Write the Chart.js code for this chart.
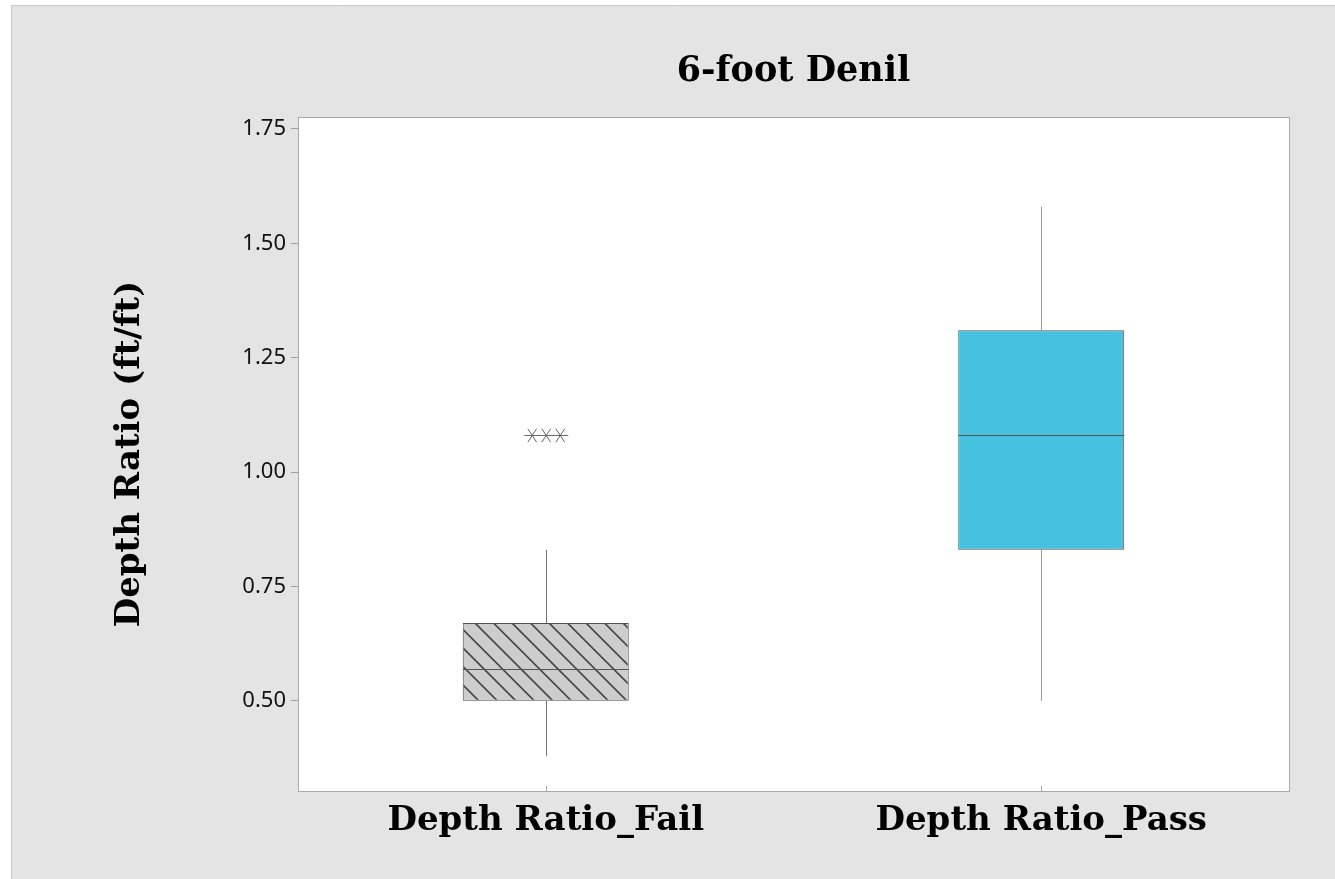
<!DOCTYPE html>
<html>
<head>
<meta charset="utf-8">
<script src="https://cdn.jsdelivr.net/npm/chart.js@4/dist/chart.umd.min.js"></script>
<style>
  html, body { margin: 0; padding: 0; background: #ffffff; }
  #wrap { position: absolute; left: 0; top: 0; width: 1335px; height: 879px; }
</style>
</head>
<body>
<div id="wrap"><canvas id="c" width="1335" height="879"></canvas></div>
<script>
// ---- data ----
const categories = ['Depth Ratio_Fail', 'Depth Ratio_Pass'];
const whiskerLow = [0.38, 0.50];
const q1Values = [0.50, 0.83];
const medianValues = [0.57, 1.08];
const q3Values = [0.67, 1.31];
const whiskerHigh = [0.83, 1.58];
const outliersFail = [1.08, 1.08, 1.08];
const outliersPass = [];
const yTicks = [0.50, 0.75, 1.00, 1.25, 1.50, 1.75];
const titleText = '6-foot Denil';
const yTitleText = 'Depth Ratio (ft/ft)';

const outlierSets = [outliersFail, outliersPass];

// ---- hatch pattern for the Fail box ----
function makeHatch() {
  const s = 18.5;
  const n = 37;
  const p = document.createElement('canvas');
  p.width = n; p.height = n;
  const g = p.getContext('2d');
  g.fillStyle = '#cdcdcd';
  g.fillRect(0, 0, n, n);
  g.strokeStyle = '#4a4a4a';
  g.lineWidth = 1.7;
  g.beginPath();
  for (let k = -2; k <= 2; k++) {
    g.moveTo(k * s - 1, -1);
    g.lineTo(k * s + n + 1, n + 1);
  }
  g.stroke();
  return document.getElementById('c').getContext('2d').createPattern(p, 'repeat');
}
const hatch = makeHatch();

const serifBold = { family: '"DejaVu Serif", serif', weight: 'bold', size: 34 };

const boxPlugin = {
  id: 'boxParts',
  beforeDraw(chart) {
    const ctx = chart.ctx;
    const ca = chart.chartArea;
    ctx.save();
    ctx.fillStyle = '#ffffff';
    ctx.fillRect(0, 0, chart.width, chart.height);
    ctx.fillStyle = '#e4e4e4';
    ctx.fillRect(11, 5, chart.width - 11, chart.height - 5);
    ctx.strokeStyle = '#c8c8c8';
    ctx.lineWidth = 1;
    ctx.beginPath();
    ctx.moveTo(11.5, chart.height); ctx.lineTo(11.5, 5.5); ctx.lineTo(chart.width, 5.5);
    ctx.stroke();
    ctx.fillStyle = '#ffffff';
    ctx.fillRect(ca.left, ca.top, ca.right - ca.left, ca.bottom - ca.top);
    ctx.restore();
  },
  beforeDatasetsDraw(chart) {
    const ctx = chart.ctx;
    const x = chart.scales.x, y = chart.scales.y;
    ctx.save();
    ctx.lineWidth = 1;
    const whiskerColors = ['#707070', '#9a9a9a'];
    categories.forEach((c, i) => {
      const px = Math.round(x.getPixelForValue(i)) + 0.5;
      ctx.strokeStyle = whiskerColors[i % whiskerColors.length];
      ctx.beginPath();
      ctx.moveTo(px, y.getPixelForValue(whiskerLow[i]));
      ctx.lineTo(px, y.getPixelForValue(q1Values[i]));
      ctx.moveTo(px, y.getPixelForValue(q3Values[i]));
      ctx.lineTo(px, y.getPixelForValue(whiskerHigh[i]));
      ctx.stroke();
    });
    ctx.restore();
  },
  afterDatasetsDraw(chart) {
    const ctx = chart.ctx;
    const ca = chart.chartArea;
    const x = chart.scales.x, y = chart.scales.y;
    const meta = chart.getDatasetMeta(0);
    ctx.save();
    // medians
    ctx.strokeStyle = '#555555';
    ctx.lineWidth = 1;
    meta.data.forEach((bar, i) => {
      const py = Math.round(y.getPixelForValue(medianValues[i])) + 0.5;
      ctx.beginPath();
      ctx.moveTo(bar.x - bar.width / 2, py);
      ctx.lineTo(bar.x + bar.width / 2, py);
      ctx.stroke();
    });
    // outliers (Minitab asterisk), jittered horizontally
    const jitter = [-14, 0, 14];
    ctx.strokeStyle = '#666666';
    ctx.lineWidth = 1;
    outlierSets.forEach((set, i) => {
      const cx = x.getPixelForValue(i) + 0.5;
      set.forEach((v, j) => {
        const px = cx + jitter[j % jitter.length];
        const py = y.getPixelForValue(v);
        const r = 8;
        ctx.beginPath();
        ctx.moveTo(px - r, py); ctx.lineTo(px + r, py);
        ctx.moveTo(px - r * 0.55, py - r * 0.84); ctx.lineTo(px + r * 0.55, py + r * 0.84);
        ctx.moveTo(px + r * 0.55, py - r * 0.84); ctx.lineTo(px - r * 0.55, py + r * 0.84);
        ctx.stroke();
      });
    });
    // plot frame
    ctx.strokeStyle = '#a8a8a8';
    ctx.strokeRect(Math.round(ca.left) + 0.5, Math.round(ca.top) + 0.5,
                   Math.round(ca.right - ca.left), Math.round(ca.bottom - ca.top));
    // inward category ticks on x axis
    categories.forEach((c, i) => {
      const px = Math.round(x.getPixelForValue(i)) + 0.5;
      ctx.beginPath();
      ctx.moveTo(px, ca.bottom);
      ctx.lineTo(px, ca.bottom - 5);
      ctx.stroke();
    });
    ctx.restore();
  }
};

new Chart(document.getElementById('c'), {
  type: 'bar',
  data: {
    labels: categories,
    datasets: [{
      label: 'IQR',
      data: categories.map((c, i) => [q1Values[i], q3Values[i]]),
      backgroundColor: [hatch, '#46c1e0'],
      borderColor: '#505050',
      borderWidth: 1,
      borderSkipped: false,
      categoryPercentage: 1,
      barPercentage: 0.335
    }]
  },
  options: {
    responsive: false,
    animation: false,
    events: [],
    layout: { padding: { left: 12, right: 46, top: 0, bottom: 0 } },
    plugins: {
      legend: { display: false },
      tooltip: { enabled: false },
      title: {
        display: true,
        fullSize: false,
        text: titleText,
        color: '#000000',
        font: { family: '"DejaVu Serif", serif', weight: 'bold', size: 35 },
        padding: { top: 51, bottom: 24 }
      }
    },
    scales: {
      x: {
        type: 'category',
        offset: true,
        grid: { display: false, drawTicks: false },
        border: { display: false },
        ticks: { color: '#000000', font: serifBold, padding: 10, maxRotation: 0 },
        afterFit(scale) { scale.height = 88; }
      },
      y: {
        type: 'linear',
        min: 0.303,
        max: 1.776,
        grid: { drawOnChartArea: false, drawTicks: true, tickLength: 7, color: '#a0a0a0', tickColor: '#a0a0a0' },
        border: { display: false },
        afterBuildTicks(scale) { scale.ticks = yTicks.map(v => ({ value: v })); },
        ticks: {
          color: '#111111',
          font: { family: '"Noto Sans", "Open Sans", sans-serif', size: 22 },
          padding: 5,
          callback: (v) => Number(v).toFixed(2)
        },
        title: {
          display: true,
          text: yTitleText,
          color: '#000000',
          font: serifBold,
          padding: { top: 98, bottom: 0 }
        },
        afterFit(scale) { scale.width = 286; }
      }
    }
  },
  plugins: [boxPlugin]
});
</script>
</body>
</html>
